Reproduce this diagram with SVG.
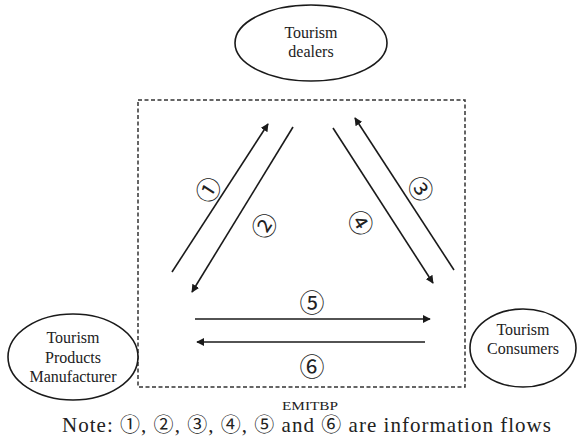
<svg xmlns="http://www.w3.org/2000/svg" width="579" height="443" viewBox="0 0 579 443">
  <style>
    .node { fill: #ffffff; stroke: #1a1a1a; stroke-width: 1.6; }
    .serif { font-family: "Liberation Serif", "DejaVu Serif", "Times New Roman", serif; }
    .lbl { font-size: 16px; fill: #222; text-anchor: middle; }
    .circ { font-family: "Noto Sans CJK SC", "Noto Sans CJK JP", "DejaVu Sans", sans-serif; }
    .num { font-size: 25px; fill: #222; text-anchor: middle; dominant-baseline: central; }
    .flow { stroke: #1a1a1a; stroke-width: 1.6; fill: none; marker-end: url(#head); }
    .frame { fill: none; stroke: #333; stroke-width: 1.5; stroke-dasharray: 4 2.5; }
  </style>
  <defs>
    <marker id="head" viewBox="0 0 10 10" refX="9" refY="5" markerWidth="8" markerHeight="8" markerUnits="userSpaceOnUse" orient="auto">
      <path d="M0,0 L10,5 L0,10 Z" fill="#1a1a1a"/>
    </marker>
  </defs>
  <rect width="579" height="443" fill="#ffffff"/>

  <!-- EMITBP platform boundary -->
  <g id="platform">
    <rect class="frame" x="138" y="100" width="327" height="287"/>
    <text class="serif" x="310" y="410" font-size="12.5" fill="#222" text-anchor="middle" textLength="56" lengthAdjust="spacingAndGlyphs">EMITBP</text>
  </g>

  <!-- information flows -->
  <g id="connectors">
    <line class="flow" x1="172" y1="272" x2="268" y2="124"/>
    <line class="flow" x1="293" y1="127" x2="192" y2="292"/>
    <line class="flow" x1="454" y1="270" x2="355" y2="118"/>
    <line class="flow" x1="333" y1="128" x2="433" y2="283"/>
    <line class="flow" x1="195" y1="319" x2="430" y2="319"/>
    <line class="flow" x1="425" y1="342" x2="197" y2="342"/>
    <text class="circ num" transform="translate(207,189) rotate(-57)">①</text>
    <text class="circ num" transform="translate(263,225) rotate(-57)">②</text>
    <text class="circ num" transform="translate(422,188) rotate(57)">③</text>
    <text class="circ num" transform="translate(362,222) rotate(57)">④</text>
    <text class="circ num" x="312" y="301">⑤</text>
    <text class="circ num" x="312" y="365">⑥</text>
  </g>

  <g id="dealers">
    <ellipse class="node" cx="311" cy="43" rx="76" ry="38"/>
    <text class="serif lbl" x="311" y="38">Tourism</text>
    <text class="serif lbl" x="311" y="57">dealers</text>
  </g>

  <g id="manufacturer">
    <ellipse class="node" cx="73" cy="357" rx="65" ry="43"/>
    <text class="serif lbl" x="73" y="343">Tourism</text>
    <text class="serif lbl" x="73" y="363">Products</text>
    <text class="serif lbl" x="73" y="382">Manufacturer</text>
  </g>

  <g id="consumers">
    <ellipse class="node" cx="523" cy="348" rx="53" ry="39"/>
    <text class="serif lbl" x="523" y="335">Tourism</text>
    <text class="serif lbl" x="523" y="354">Consumers</text>
  </g>

  <text class="serif" x="62" y="432" font-size="21" fill="#222" textLength="489" lengthAdjust="spacing">Note: <tspan class="circ" font-size="20">①</tspan>, <tspan class="circ" font-size="20">②</tspan>, <tspan class="circ" font-size="20">③</tspan>, <tspan class="circ" font-size="20">④</tspan>, <tspan class="circ" font-size="20">⑤</tspan> and <tspan class="circ" font-size="20">⑥</tspan> are information flows</text>
</svg>
